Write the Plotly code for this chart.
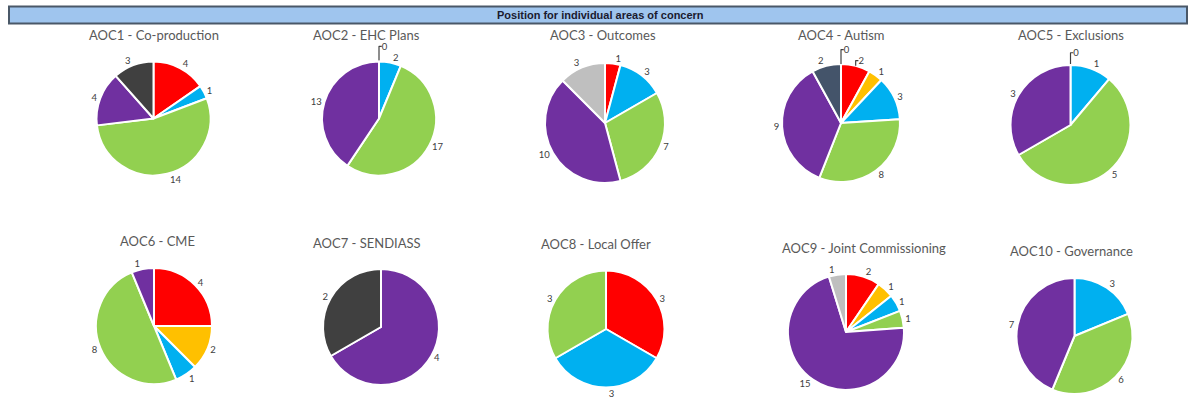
import plotly.graph_objects as go

# Rating categories, in the order the slices run clockwise from 12 o'clock
CATEGORIES = ["Red", "Amber", "Blue", "Green", "Purple", "Black", "Slate", "Grey"]
COLOURS = ["#ff0000", "#ffc000", "#00b0f0", "#92d050", "#7030a0", "#404040", "#44546a", "#bfbfbf"]

TITLES = [
    "AOC1 - Co-production",
    "AOC2 - EHC Plans",
    "AOC3 - Outcomes",
    "AOC4 - Autism",
    "AOC5 - Exclusions",
    "AOC6 - CME",
    "AOC7 - SENDIASS",
    "AOC8 - Local Offer",
    "AOC9 - Joint Commissioning",
    "AOC10 - Governance",
]

# None = category not present in that chart
AOC1 = [4, None, 1, 14, 4, 3, None, None]
AOC2 = [0, None, 2, 17, 13, None, None, None]
AOC3 = [1, None, 3, 7, 10, None, None, 3]
AOC4 = [2, 1, 3, 8, 9, None, 2, 0]
AOC5 = [0, None, 1, 5, 3, None, None, None]
AOC6 = [4, 2, 1, 8, 1, None, None, None]
AOC7 = [None, None, None, None, 4, 2, None, None]
AOC8 = [3, None, 3, 3, None, None, None, None]
AOC9 = [2, 1, 1, 1, 15, None, None, 1]
AOC10 = [None, None, 3, 6, 7, None, None, None]

HEADER = "Position for individual areas of concern"

WIDTH, HEIGHT = 1190, 404

# pixel layout: pie centre x, centre y, radius, title centre x, title y
PIE_LAYOUT = [
    (153.5, 118.5, 57, 154, 35),
    (379, 118.5, 57, 366, 35),
    (605, 123, 60, 603, 35),
    (841, 123, 59, 841, 35),
    (1070.5, 125, 60, 1071, 35),
    (154, 326, 58, 157, 241),
    (381, 327, 58, 367, 243),
    (606, 329, 58.5, 596, 244),
    (846, 332, 58, 864, 248),
    (1074.5, 336, 58, 1071, 251),
]

LABEL_FONT = dict(family="Lato, Open Sans, sans-serif", size=9.5, color="#404040")


def px_x(x: float) -> float:
    return x / WIDTH


def px_y(y: float) -> float:
    return 1 - y / HEIGHT


def make_pie(values: list, cx: float, cy: float, r: float) -> go.Pie:
    keep = [i for i, v in enumerate(values) if v is not None]
    return go.Pie(
        labels=[CATEGORIES[i] for i in keep],
        values=[values[i] for i in keep],
        marker=dict(colors=[COLOURS[i] for i in keep], line=dict(color="white", width=2)),
        domain=dict(x=[px_x(cx - r), px_x(cx + r)], y=[px_y(cy + r), px_y(cy - r)]),
        sort=False,
        direction="clockwise",
        rotation=0,
        textinfo="value",
        textposition="outside",
        textfont=LABEL_FONT,
        outsidetextfont=LABEL_FONT,
        showlegend=False,
        hovertemplate="%{label}: %{value}<extra></extra>",
    )


def main() -> None:
    all_values = [AOC1, AOC2, AOC3, AOC4, AOC5, AOC6, AOC7, AOC8, AOC9, AOC10]

    fig = go.Figure()
    annotations = []
    for title, values, (cx, cy, r, tx, ty) in zip(TITLES, all_values, PIE_LAYOUT):
        fig.add_trace(make_pie(values, cx, cy, r))
        annotations.append(dict(
            text=title, x=px_x(tx), y=px_y(ty), xref="paper", yref="paper",
            xanchor="center", yanchor="middle", showarrow=False,
            font=dict(family="Lato, Open Sans, sans-serif", size=13, color="#595959"),
        ))

    # header bar across the top
    annotations.append(dict(
        text=f"<b>{HEADER}</b>", x=px_x(600), y=px_y(15), xref="paper", yref="paper",
        xanchor="center", yanchor="middle", showarrow=False,
        font=dict(family="Liberation Sans, Arial, sans-serif", size=11, color="#1a1a2e"),
    ))

    fig.update_layout(
        width=WIDTH,
        height=HEIGHT,
        margin=dict(l=0, r=0, t=0, b=0),
        paper_bgcolor="white",
        plot_bgcolor="white",
        annotations=annotations,
        shapes=[dict(
            type="rect", xref="paper", yref="paper",
            x0=px_x(9), x1=px_x(1187), y0=px_y(23.5), y1=px_y(6.5),
            fillcolor="#9fc5ee", line=dict(color="#4a5868", width=2),
        )],
    )
    # drop the browser's default body margin so the figure sits at the page corner
    fig.write_html(
        "out.html",
        config={"displayModeBar": False},
        post_script="document.body.style.margin = '0';",
    )


if __name__ == "__main__":
    main()
